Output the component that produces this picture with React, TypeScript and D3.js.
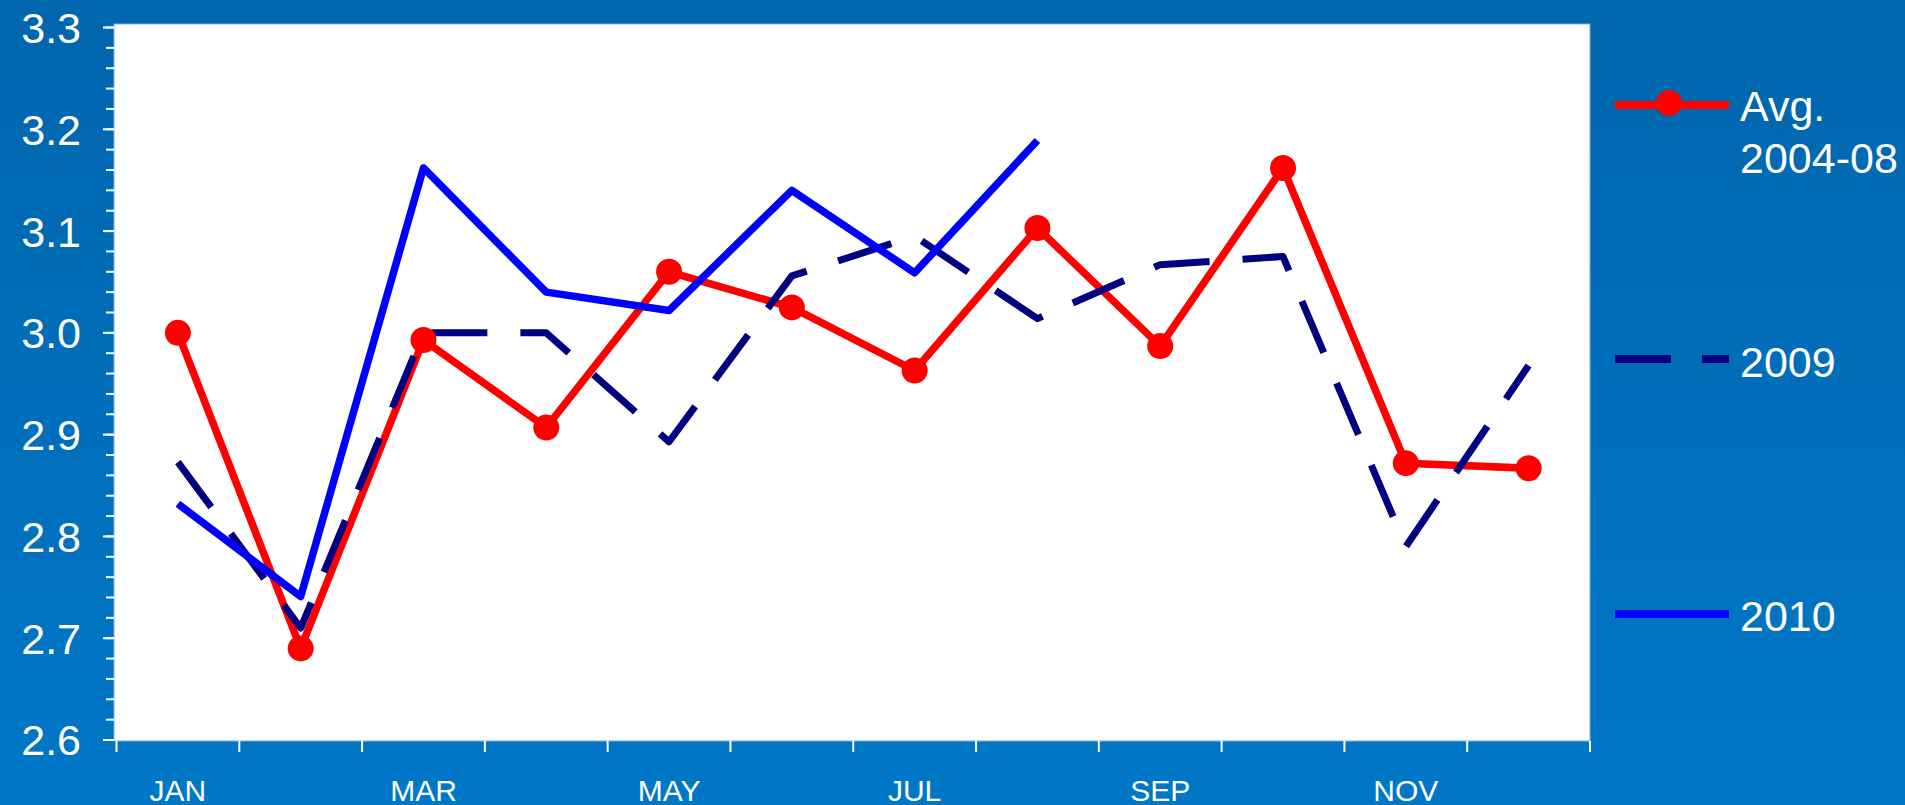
import React from "react";
import * as d3 from "d3";

const months = ["JAN", "FEB", "MAR", "APR", "MAY", "JUN", "JUL", "AUG", "SEP", "OCT", "NOV", "DEC"];
const tickLabelMonths = ["JAN", "MAR", "MAY", "JUL", "SEP", "NOV"];
const avg0408 = [3.0, 2.69, 2.993, 2.907, 3.06, 3.025, 2.963, 3.103, 2.987, 3.162, 2.872, 2.867];
const y2009 = [2.873, 2.71, 3.0, 3.0, 2.893, 3.056, 3.095, 3.014, 3.067, 3.075, 2.79, 2.968];
const y2010: (number | null)[] = [2.832, 2.741, 3.162, 3.04, 3.022, 3.14, 3.059, 3.189, null, null, null, null];
const yTicks = [2.6, 2.7, 2.8, 2.9, 3.0, 3.1, 3.2, 3.3];

const W = 1905;
const H = 805;
const FONT = "'Liberation Sans', Arial, sans-serif";

export default function App() {
  const x = d3.scaleBand<string>().domain(months).range([116.5, 1590]).padding(0);
  const y = d3.scaleLinear().domain([2.6, 3.3]).range([740, 27.5]);
  const cx = (i: number) => (x(months[i]) as number) + x.bandwidth() / 2;

  const line = d3
    .line<number | null>()
    .defined((d) => d !== null)
    .x((_, i) => cx(i))
    .y((d) => y(d as number));

  const minorTicks = d3.range(0, 36).map((k) => 2.6 + k * 0.02);
  const bounds = d3.range(0, 13).map((i) => 116.5 + i * x.bandwidth());

  return (
    <div style={{ position: "fixed", left: 0, top: 0, width: W, height: H }}>
      <svg width={W} height={H} style={{ display: "block" }}>
        <defs>
          <linearGradient id="bg" x1="0" y1="0" x2="0" y2="1">
            <stop offset="0" stopColor="#0066AD" />
            <stop offset="1" stopColor="#0077C7" />
          </linearGradient>
        </defs>
        <rect x={0} y={0} width={W} height={H} fill="url(#bg)" />
        <rect x={114} y={24} width={1590 - 114} height={741 - 24} fill="#ffffff" stroke="#7fb0da" strokeWidth={1} />

        {/* y axis ticks */}
        {minorTicks.map((v, i) => (
          <line key={"m" + i} x1={106} x2={114} y1={y(v)} y2={y(v)} stroke="#fff" strokeWidth={2} />
        ))}
        {yTicks.map((v) => (
          <g key={"y" + v}>
            <line x1={103} x2={114} y1={y(v)} y2={y(v)} stroke="#fff" strokeWidth={2} />
            <text x={81} y={y(v)} dy="0.36em" textAnchor="end" fill="#fff" fontSize={43} fontFamily={FONT}>
              {v.toFixed(1)}
            </text>
          </g>
        ))}

        {/* x axis ticks */}
        {bounds.map((bx, i) => (
          <line key={"b" + i} x1={bx} x2={bx} y1={741} y2={752} stroke="#fff" strokeWidth={2} />
        ))}
        {tickLabelMonths.map((m) => (
          <text
            key={m}
            x={(x(m) as number) + x.bandwidth() / 2}
            y={801}
            textAnchor="middle"
            fill="#fff"
            fontSize={30}
            fontFamily={FONT}
          >
            {m}
          </text>
        ))}

        {/* series */}
        <path d={line(avg0408) || ""} fill="none" stroke="#FF0000" strokeWidth={7.5} strokeLinejoin="round" />
        <path
          d={line(y2009) || ""}
          fill="none"
          stroke="#000080"
          strokeWidth={7}
          strokeDasharray="56,33"
          strokeLinejoin="round"
        />
        <path d={line(y2010) || ""} fill="none" stroke="#0000FF" strokeWidth={7.5} strokeLinejoin="round" />
        {avg0408.map((v, i) => (
          <circle key={"c" + i} cx={cx(i)} cy={y(v)} r={13} fill="#FF0000" />
        ))}

        {/* legend */}
        <line x1={1615} x2={1729} y1={105} y2={105} stroke="#FF0000" strokeWidth={8} />
        <circle cx={1669} cy={103} r={13} fill="#FF0000" />
        <text x={1740} y={121} fill="#fff" fontSize={43} fontFamily={FONT}>
          Avg.
        </text>
        <text x={1740} y={173} fill="#fff" fontSize={43} fontFamily={FONT}>
          2004-08
        </text>

        <line x1={1615} x2={1729} y1={359} y2={359} stroke="#000080" strokeWidth={8} strokeDasharray="56,31" />
        <text x={1740} y={377} fill="#fff" fontSize={43} fontFamily={FONT}>
          2009
        </text>

        <line x1={1615} x2={1729} y1={614} y2={614} stroke="#0000FF" strokeWidth={8} />
        <text x={1740} y={631} fill="#fff" fontSize={43} fontFamily={FONT}>
          2010
        </text>
      </svg>
    </div>
  );
}
